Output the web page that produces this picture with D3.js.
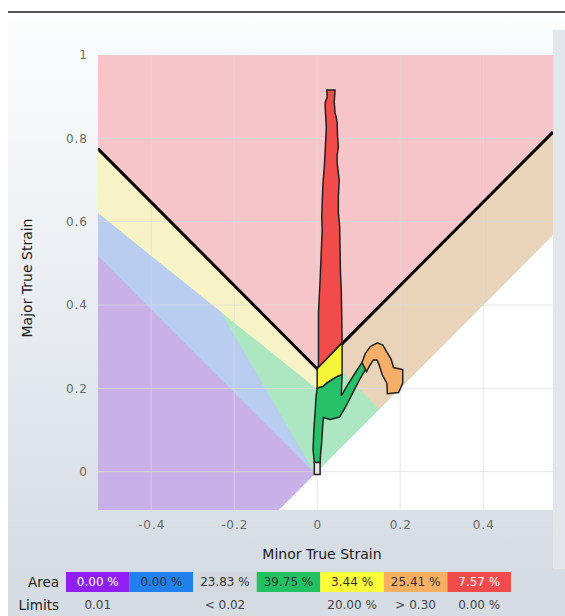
<!DOCTYPE html>
<html>
<head>
<meta charset="utf-8">
<script src="https://cdn.jsdelivr.net/npm/d3@7"></script>
<style>
  body { margin: 0; background: #fff; }
  svg { display: block; }
</style>
</head>
<body>
<script>
// axis ranges and ticks
var xTicks = [-0.4, -0.2, 0, 0.2, 0.4],
	yTicks = [0, 0.2, 0.4, 0.6, 0.8, 1],
	xDomain = [-0.528, 0.568],
	yDomain = [-0.092, 1];

// forming limit curve (minor, major)
var flcMinor = [-0.528, 0, 0.568],
	flcMajor = [0.775, 0.247, 0.815];

// zone limits
var safetyMargin = 0.2,      // 20 %
	thinningLimit = 0.30,
	thickeningLimit = 0.01,
	wrinkleSlope = 1.65;

// strain clouds, outlines as [minor, major]
var crackPts = [[0.023, 0.916], [0.043, 0.916], [0.041, 0.887], [0.043, 0.861], [0.046, 0.850],
	[0.048, 0.837], [0.049, 0.805], [0.051, 0.779], [0.048, 0.760], [0.048, 0.741], [0.053, 0.700],
	[0.051, 0.660], [0.051, 0.621], [0.054, 0.590], [0.055, 0.540], [0.056, 0.480], [0.058, 0.436],
	[0.059, 0.380], [0.060, 0.310], [0.003, 0.250], [0.003, 0.381], [0.005, 0.420], [0.007, 0.460],
	[0.010, 0.532], [0.012, 0.580], [0.011, 0.610], [0.012, 0.645], [0.014, 0.693], [0.017, 0.730],
	[0.019, 0.765], [0.022, 0.827], [0.020, 0.860], [0.019, 0.885], [0.024, 0.899]];
var riskPts = [[0.0, 0.247], [0.060, 0.309], [0.060, 0.233], [0.048, 0.228], [0.036, 0.221],
	[0.024, 0.213], [0.014, 0.204], [0.0, 0.201]];
var safePts = [[0.0, 0.201], [0.014, 0.204], [0.024, 0.213], [0.036, 0.221], [0.048, 0.228],
	[0.060, 0.233], [0.058, 0.182], [0.070, 0.203], [0.084, 0.225], [0.096, 0.244], [0.108, 0.262],
	[0.119, 0.250], [0.105, 0.226], [0.088, 0.194], [0.071, 0.160], [0.054, 0.131], [0.031, 0.125],
	[0.015, 0.130], [0.013, 0.106], [0.011, 0.072], [0.008, 0.041], [0.007, 0.022], [-0.007, 0.022],
	[-0.010, 0.053], [-0.008, 0.101], [-0.005, 0.144], [-0.003, 0.177]];
var thinPts = [[0.108, 0.262], [0.116, 0.284], [0.128, 0.300], [0.145, 0.309], [0.158, 0.304],
	[0.166, 0.290], [0.178, 0.270], [0.184, 0.250], [0.206, 0.245], [0.206, 0.212], [0.196, 0.190],
	[0.169, 0.187], [0.168, 0.212], [0.157, 0.232], [0.150, 0.254], [0.144, 0.268], [0.135, 0.268],
	[0.125, 0.252], [0.119, 0.240]];
var lowStretchPts = [[-0.007, 0.022], [0.007, 0.022], [0.007, -0.007], [-0.007, -0.007]];

// legend
var legendColors = ['#8f1ff2', '#1f80ee', '#d3d8de', '#22c162', '#ffff3a', '#f7b062', '#f24b4b'],
	legendText = ['#ffffff', '#333333', '#333333', '#333333', '#333333', '#333333', '#ffffff'],
	areaValues = ['0.00 %', '0.00 %', '23.83 %', '39.75 %', '3.44 %', '25.41 %', '7.57 %'],
	limitValues = ['0.01', '', '< 0.02', '', '20.00 %', '> 0.30', '0.00 %'];

var W = 565, H = 616,
	plot = {left: 98, right: 553, top: 55, bottom: 510};

var svg = d3.select('body').append('svg')
	.attr('width', W)
	.attr('height', H);

var defs = svg.append('defs');
var grad = defs.append('linearGradient').attr('id', 'panel')
	.attr('x1', 0).attr('y1', 0).attr('x2', 0).attr('y2', 1);
grad.append('stop').attr('offset', '0%').attr('stop-color', '#fcfdfd');
grad.append('stop').attr('offset', '45%').attr('stop-color', '#eaeef2');
grad.append('stop').attr('offset', '100%').attr('stop-color', '#d2d9e1');

// panel background + top rule
svg.append('rect').attr('x', 8).attr('y', 13).attr('width', W - 8).attr('height', H - 13)
	.attr('fill', 'url(#panel)');
svg.append('rect').attr('x', 553).attr('y', 30).attr('width', 12).attr('height', 540)
	.attr('fill', '#e2e6eb');
svg.append('line').attr('x1', 8).attr('x2', W).attr('y1', 12).attr('y2', 12)
	.attr('stroke', '#555').attr('stroke-width', 2);

var x = d3.scaleLinear().domain(xDomain).range([plot.left, plot.right]),
	y = d3.scaleLinear().domain(yDomain).range([plot.bottom, plot.top]);

var flc = d3.scaleLinear().domain(flcMinor).range(flcMajor);
var xmin = xDomain[0], xmax = xDomain[1], ymin = yDomain[0], ymax = yDomain[1];

var area = d3.line().x(function(d) { return x(d[0]); }).y(function(d) { return y(d[1]); });
function poly(pts) { return area(pts) + 'Z'; }

var g = svg.append('g');
g.append('clipPath').attr('id', 'clip').append('rect')
	.attr('x', plot.left).attr('y', plot.top)
	.attr('width', plot.right - plot.left).attr('height', plot.bottom - plot.top);
var zones = g.append('g').attr('clip-path', 'url(#clip)');

var k = 1 - safetyMargin;
// point where the safety-margin line meets the wrinkle tendency line
var xi = -(k * flcMajor[1]) / (wrinkleSlope - k), yi = -wrinkleSlope * xi;
// thinning line meets FLC and the equibiaxial line
var xt = (thinningLimit - flcMajor[1]) / 2, half = thinningLimit / 2;

var zoneList = [
	// safe
	{c: '#ade7c2', p: [[xmin, ymin], [xmax, ymin], [xmax, ymax], [xmin, ymax]]},
	// risk of cracks
	{c: '#f7f3c6', p: [[xmin, flc(xmin)], [0, flc(0)], [xmax, flc(xmax)], [xmax, k * flc(xmax)], [0, k * flc(0)], [xmin, k * flc(xmin)]]},
	// wrinkling tendency
	{c: '#b8cdf0', p: [[xmin, -thickeningLimit - xmin], [xmin, k * flc(xmin)], [xi, yi], [-thickeningLimit / 2, -thickeningLimit / 2]]},
	// wrinkles
	{c: '#c9b0e8', p: [[xmin, -thickeningLimit - xmin], [-thickeningLimit / 2, -thickeningLimit / 2], [ymin, ymin], [xmin, ymin]]},
	// excessive thinning
	{c: '#e9d3b9', p: [[xt, flc(xt)], [xmax, flc(xmax)], [xmax, xmax], [half, half]]},
	// below equibiaxial
	{c: '#ffffff', p: [[ymin, ymin], [xmax, xmax], [xmax, ymin]]},
	// cracks
	{c: '#f6c5c9', p: [[xmin, flc(xmin)], [0, flc(0)], [xmax, flc(xmax)], [xmax, ymax], [xmin, ymax]]}
];

zones.selectAll('.zone')
	.data(zoneList)
	.enter().append('path')
	.attr('class', 'zone')
	.attr('d', function(d) { return poly(d.p); })
	.attr('fill', function(d) { return d.c; });

// grid
zones.selectAll('.gx').data(xTicks).enter().append('line')
	.attr('x1', function(d) { return x(d); }).attr('x2', function(d) { return x(d); })
	.attr('y1', plot.top).attr('y2', plot.bottom)
	.attr('stroke', '#dcdcdc').attr('stroke-opacity', 0.7);
zones.selectAll('.gy').data(yTicks).enter().append('line')
	.attr('y1', function(d) { return y(d); }).attr('y2', function(d) { return y(d); })
	.attr('x1', plot.left).attr('x2', plot.right)
	.attr('stroke', '#dcdcdc').attr('stroke-opacity', 0.7);

// FLC
zones.append('path')
	.attr('d', area(flcMinor.map(function(m, i) { return [m, flcMajor[i]]; })))
	.attr('fill', 'none').attr('stroke', '#000').attr('stroke-width', 3);

// strain clouds
var clouds = [
	{pts: crackPts, c: '#f24b4b'},
	{pts: riskPts, c: '#f5f53a'},
	{pts: safePts, c: '#25c068'},
	{pts: thinPts, c: '#f6ae68'},
	{pts: lowStretchPts, c: '#e6e6e6'}
];
zones.selectAll('.cloud')
	.data(clouds)
	.enter().append('path')
	.attr('class', 'cloud')
	.attr('d', function(d) { return poly(d.pts); })
	.attr('fill', function(d) { return d.c; })
	.attr('stroke', '#222').attr('stroke-width', 1.5)
	.attr('stroke-linejoin', 'miter');

// axes
var fmt = function(d) { return d === 0 ? '0' : d === 1 ? '1' : d.toFixed(1); };
var xAxis = svg.append('g')
	.attr('transform', 'translate(0,' + (plot.bottom + 4) + ')')
	.call(d3.axisBottom(x).tickValues(xTicks).tickSize(0).tickPadding(6).tickFormat(fmt));
var yAxis = svg.append('g')
	.attr('transform', 'translate(' + (plot.left - 10) + ',0)')
	.call(d3.axisLeft(y).tickValues(yTicks).tickSize(0).tickPadding(0).tickFormat(fmt));
[xAxis, yAxis].forEach(function(a) {
	a.select('.domain').remove();
	a.selectAll('text')
		.style('font-family', 'DejaVu Sans, sans-serif')
		.style('font-size', '12px')
		.style('letter-spacing', '1px')
		.attr('fill', '#6a6a6a');
});

svg.append('text')
	.attr('x', 322).attr('y', 559)
	.attr('text-anchor', 'middle')
	.style('font-family', 'DejaVu Sans, sans-serif')
	.style('font-size', '14px')
	.attr('fill', '#1a1a1a')
	.text('Minor True Strain');
svg.append('text')
	.attr('transform', 'translate(32,278) rotate(-90)')
	.attr('text-anchor', 'middle')
	.style('font-family', 'DejaVu Sans, sans-serif')
	.style('font-size', '14px')
	.attr('fill', '#1a1a1a')
	.text('Major True Strain');

// legend table
var band = d3.scaleBand().domain(d3.range(legendColors.length)).range([66, 511]);
var leg = svg.append('g');
leg.append('rect').attr('x', 8).attr('y', 569).attr('width', W - 8).attr('height', 47).attr('fill', '#d6dce3');
leg.selectAll('.cell').data(legendColors).enter().append('rect')
	.attr('x', function(d, i) { return band(i); })
	.attr('y', 572).attr('width', band.bandwidth()).attr('height', 20)
	.attr('fill', function(d) { return d; });
leg.selectAll('.av').data(areaValues).enter().append('text')
	.attr('x', function(d, i) { return band(i) + band.bandwidth() / 2; })
	.attr('y', 586).attr('text-anchor', 'middle')
	.style('font-family', 'DejaVu Sans, sans-serif').style('font-size', '12px')
	.attr('fill', function(d, i) { return legendText[i]; })
	.text(function(d) { return d; });
leg.selectAll('.lv').data(limitValues).enter().append('text')
	.attr('x', function(d, i) { return band(i) + band.bandwidth() / 2; })
	.attr('y', 609).attr('text-anchor', 'middle')
	.style('font-family', 'DejaVu Sans, sans-serif').style('font-size', '12px')
	.attr('fill', '#444')
	.text(function(d) { return d; });
leg.append('text').attr('x', 59).attr('y', 587).attr('text-anchor', 'end')
	.style('font-family', 'DejaVu Sans, sans-serif').style('font-size', '13.5px')
	.attr('fill', '#222').text('Area');
leg.append('text').attr('x', 59).attr('y', 610).attr('text-anchor', 'end')
	.style('font-family', 'DejaVu Sans, sans-serif').style('font-size', '13.5px')
	.attr('fill', '#222').text('Limits');
</script>
</body>
</html>
